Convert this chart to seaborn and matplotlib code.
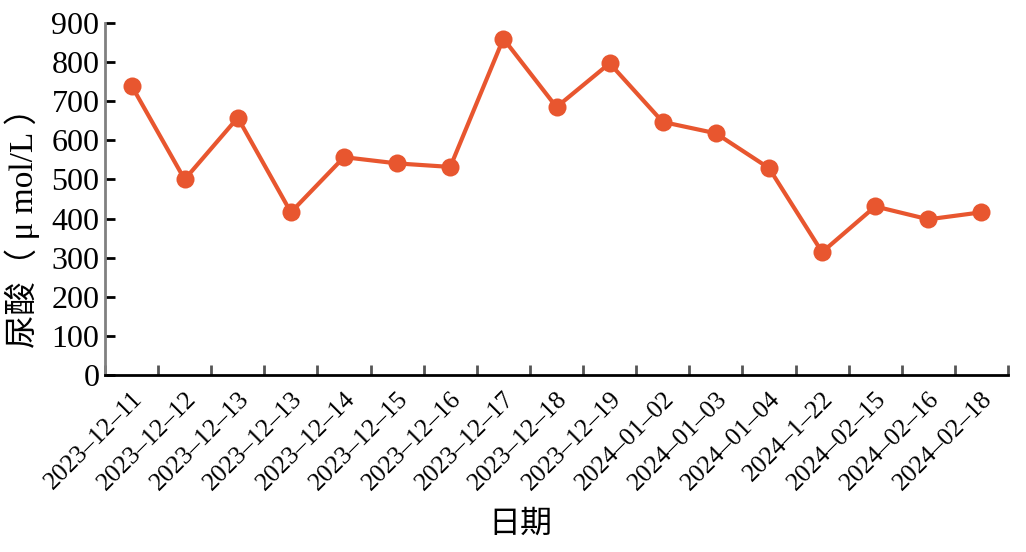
import numpy as np
import matplotlib
matplotlib.use("Agg")
import matplotlib.pyplot as plt
import seaborn as sns
from matplotlib.transforms import ScaledTranslation

dates = ["2023-12-11", "2023-12-12", "2023-12-13", "2023-12-13", "2023-12-14",
         "2023-12-15", "2023-12-16", "2023-12-17", "2023-12-18", "2023-12-19",
         "2024-01-02", "2024-01-03", "2024-01-04", "2024-1-22", "2024-02-15",
         "2024-02-16", "2024-02-18"]
uric_acid = [740, 500, 658, 416, 557, 541, 532, 860, 685, 797,
             647, 618, 529, 314, 431, 398, 416]
y_ticks = [0, 100, 200, 300, 400, 500, 600, 700, 800, 900]

sns.set_theme(style="white")
plt.rcParams['font.family'] = ['Liberation Serif', 'Noto Sans CJK SC']
plt.rcParams['axes.unicode_minus'] = False
plt.rcParams['text.color'] = 'black'
plt.rcParams['axes.labelcolor'] = 'black'
plt.rcParams['xtick.color'] = 'black'
plt.rcParams['ytick.color'] = 'black'

fig = plt.figure(figsize=(10.26, 5.52), dpi=100)
ax = fig.add_axes([0.1023, 0.3207, 0.8802, 0.6376])

idx = np.arange(len(dates))
sns.lineplot(x=idx, y=uric_acid, ax=ax, color="#E8562F", linewidth=3,
             marker="o", markersize=13, markeredgewidth=0, sort=False)

n = len(dates)
ax.set_xlim(-0.5, n - 0.5)
ax.set_ylim(0, 900)
ax.set_yticks(y_ticks)
ax.set_yticklabels([str(v) for v in y_ticks], fontsize=23)
ax.set_xticks(idx)
ax.set_xticklabels([d.replace("-", "–") for d in dates], fontsize=18.5,
                   rotation=45, ha="right", rotation_mode="anchor")
offset = ScaledTranslation(0.06, 0, fig.dpi_scale_trans)
for lbl in ax.get_xticklabels():
    lbl.set_transform(lbl.get_transform() + offset)
ax.set_xticks(np.arange(n + 1) - 0.5, minor=True)
ax.tick_params(axis="x", which="major", length=0, pad=9)
ax.tick_params(axis="x", which="minor", direction="in", length=7, width=2,
               color="#555555", bottom=True)
ax.tick_params(axis="y", which="major", direction="in", length=7, width=2,
               color="black", left=True, pad=4)

for s in ["top", "right"]:
    ax.spines[s].set_visible(False)
ax.spines["left"].set_color("#808080")
ax.spines["left"].set_linewidth(2)
ax.spines["bottom"].set_color("black")
ax.spines["bottom"].set_linewidth(2)

ax.set_ylabel("尿酸（ μ mol/L ）", fontsize=24)
ax.yaxis.set_label_coords(-0.072, 0.44)
ax.set_xlabel("日期", fontsize=23)
ax.xaxis.set_label_coords(0.46, -0.385)
ax.grid(False)

fig.savefig("out.png", dpi=100, facecolor="white")
